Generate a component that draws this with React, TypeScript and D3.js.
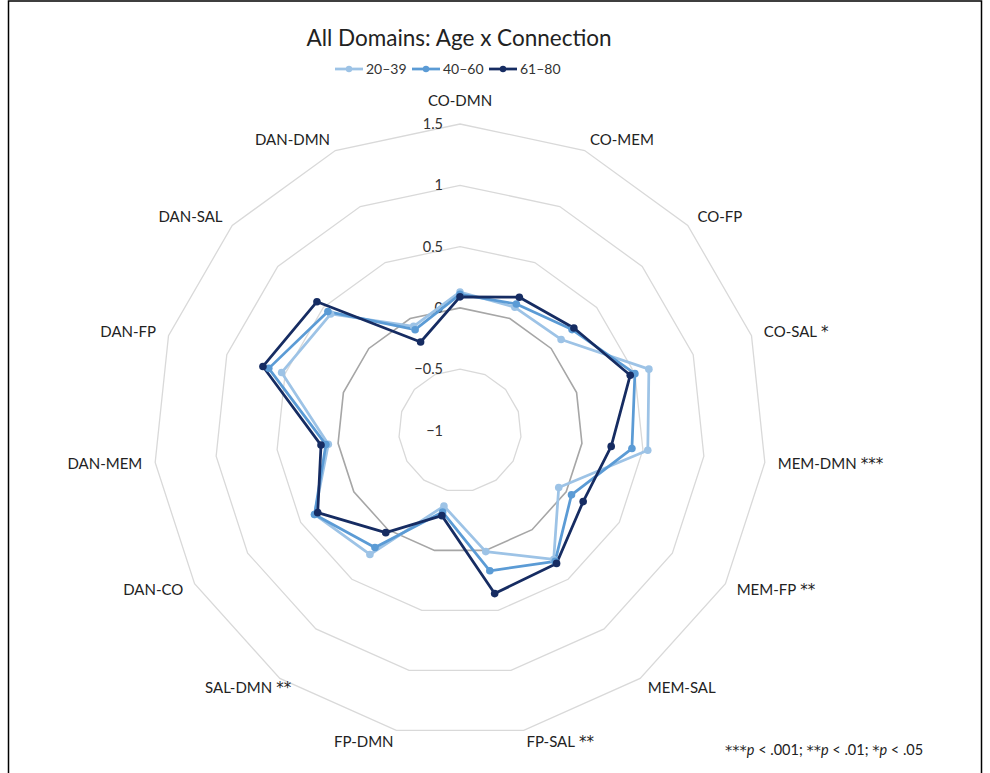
import React from "react";
import * as d3 from "d3";

const axes = ["CO-DMN","CO-MEM","CO-FP","CO-SAL","MEM-DMN","MEM-FP","MEM-SAL","FP-SAL","FP-DMN","SAL-DMN","DAN-CO","DAN-MEM","DAN-FP","DAN-SAL","DAN-DMN"];
const sig = ["","","","*","***","**","","**","","**","","","","",""];

const seriesNames = ["20\u201339", "40\u201360", "61\u201380"];
const young = [0.13, 0.10, 0.11, 0.62, 0.54, -0.07, 0.30, 0.01, -0.37, 0.25, 0.37, 0.08, 0.53, 0.42, -0.07];
const middle = [0.11, 0.13, 0.23, 0.50, 0.41, 0.05, 0.32, 0.17, -0.32, 0.18, 0.37, 0.10, 0.64, 0.45, -0.10];
const older = [0.09, 0.19, 0.25, 0.46, 0.24, 0.16, 0.34, 0.36, -0.29, 0.03, 0.34, 0.14, 0.69, 0.57, -0.21];
const seriesValues = [young, middle, older];
const seriesColors = ["#9DC3E6", "#5B9BD5", "#162C62"];

const ringTicks = [-1, -0.5, 0, 0.5, 1, 1.5];
const tickLabels = ["\u22121", "\u22120.5", "0", "0.5", "1", "1.5"];

const W = 990, H = 773;
const cx = 460, cy = 430.5, R = 306.5;
const FONT = "Lato, 'Open Sans', sans-serif";
const STAR = "'DejaVu Sans', sans-serif";

export default function App() {
  const r = d3.scaleLinear().domain([-1, 1.5]).range([0, R]);
  const n = axes.length;
  const ang = d3.scaleLinear().domain([0, n]).range([0, 2 * Math.PI]);
  const ringLine = d3.lineRadial<number>().angle((_, i) => ang(i)).radius((d) => r(d)).curve(d3.curveLinearClosed);
  const dataLine = d3.lineRadial<number>().angle((_, i) => ang(i)).radius((d) => r(d)).curve(d3.curveLinearClosed);
  const pt = (i: number, v: number) => {
    const a = ang(i);
    return [cx + r(v) * Math.sin(a), cy - r(v) * Math.cos(a)];
  };

  const legendX = [335, 412, 489];

  return (
    <div style={{ position: "absolute", left: 0, top: 0 }}>
      <svg width={W} height={H} style={{ display: "block", fontFamily: FONT }}>
        <rect x={0} y={0} width={W} height={H} fill="#fff" />
        <rect x={8.5} y={1} width={973} height={H + 10} fill="none" stroke="#000" strokeWidth={1.5} />
        <text x={459} y={46} textAnchor="middle" fontSize={22.5} fill="#222">All Domains: Age x Connection</text>
        {seriesNames.map((s, k) => (
          <g key={s} transform={`translate(${legendX[k]},69)`}>
            <line x1={0} x2={28} y1={0} y2={0} stroke={seriesColors[k]} strokeWidth={2.75} />
            <circle cx={14} cy={0} r={3.2} fill={seriesColors[k]} />
            <text x={31} y={5} fontSize={14} fill="#333">{s}</text>
          </g>
        ))}
        <g transform={`translate(${cx},${cy})`}>
          {ringTicks.filter((t) => t > -1).map((t) => (
            <path key={t} d={ringLine(axes.map(() => t)) || ""} fill="none"
              stroke={t === 0 ? "#A6A6A6" : "#D9D9D9"} strokeWidth={t === 0 ? 1.6 : 1.3} />
          ))}
        </g>
        {ringTicks.map((t, k) => (
          <text key={t} x={cx - 17} y={cy - r(t) + 5} textAnchor="end" fontSize={14.5} fill="#333">{tickLabels[k]}</text>
        ))}
        <g transform={`translate(${cx},${cy})`}>
          {seriesValues.map((vals, k) => (
            <path key={k} d={dataLine(vals) || ""} fill="none" stroke={seriesColors[k]} strokeWidth={k === 2 ? 2.75 : 2.75} strokeLinejoin="round" />
          ))}
        </g>
        {seriesValues.map((vals, k) => (
          <g key={k}>
            {vals.map((v, i) => {
              const [x, y] = pt(i, v);
              return <circle key={i} cx={x} cy={y} r={3.8} fill={seriesColors[k]} />;
            })}
          </g>
        ))}
        {axes.map((name, i) => {
          const a = ang(i);
          const s = Math.sin(a), c = Math.cos(a);
          const vx = cx + R * s, vy = cy - R * c;
          const anchor = s > 0.01 ? "start" : s < -0.01 ? "end" : "middle";
          const x = vx + 13 * s;
          const yc = Math.abs(s) < 0.01 ? vy - 23 * c : vy - 12 * c;
          const y = yc + 5;
          if (anchor === "end" && sig[i]) {
            return (
              <g key={name}>
                <text x={x} y={y} textAnchor="end" fontSize={15} fill="#222">{name}</text>
                <text x={x + 4} y={y} textAnchor="start" fontSize={15} fontFamily={STAR} fill="#222">{sig[i]}</text>
              </g>
            );
          }
          return (
            <text key={name} x={x} y={y} textAnchor={anchor} fontSize={15} fill="#222">
              {name}
              {sig[i] ? <tspan dx={4} fontSize={15} fontFamily={STAR}>{sig[i]}</tspan> : null}
            </text>
          );
        })}
        <text x={725} y={755} fontSize={14.5} fill="#222">
          <tspan fontFamily={STAR}>***</tspan><tspan fontStyle="italic">p</tspan><tspan> &lt; .001; </tspan><tspan fontFamily={STAR}>**</tspan><tspan fontStyle="italic">p</tspan><tspan> &lt; .01; </tspan><tspan fontFamily={STAR}>*</tspan><tspan fontStyle="italic">p</tspan><tspan> &lt; .05</tspan>
        </text>
      </svg>
    </div>
  );
}
